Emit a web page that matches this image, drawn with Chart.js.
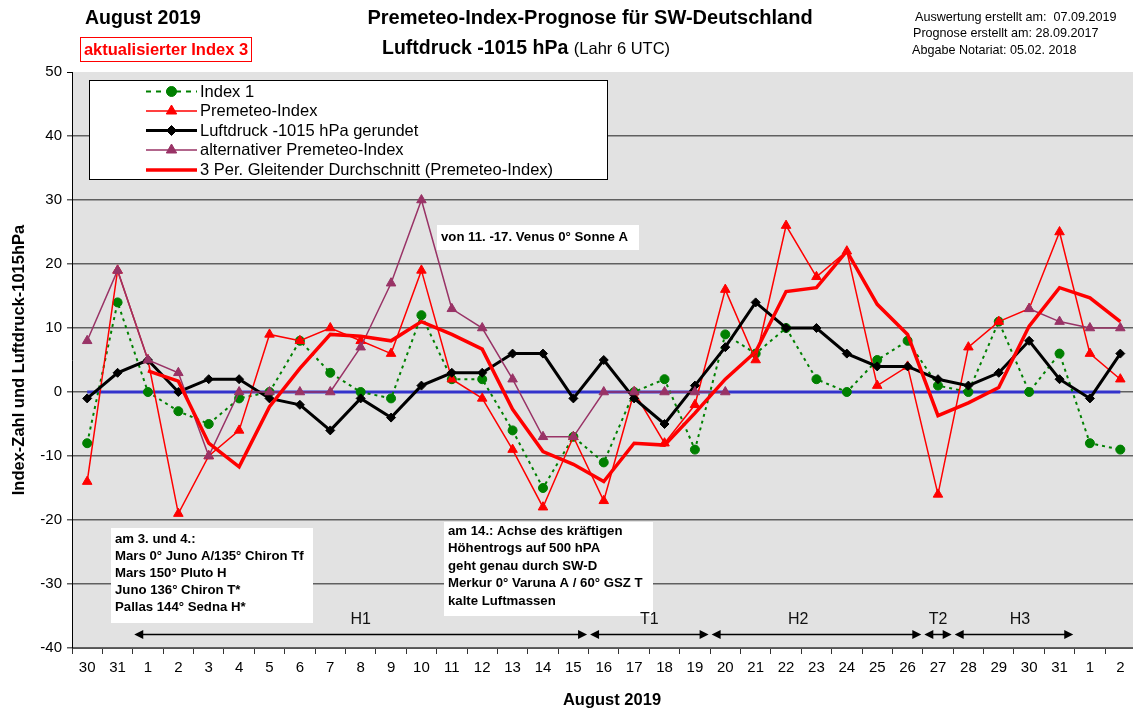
<!DOCTYPE html>
<html><head><meta charset="utf-8">
<script src="https://cdn.jsdelivr.net/npm/chart.js@4.4.1/dist/chart.umd.min.js"></script>
<style>
html,body{margin:0;padding:0;overflow:hidden;background:#fff;}
#wrap{position:relative;width:1133px;height:708px;overflow:hidden;}
#c{position:absolute;left:0;top:0;}
.t{position:absolute;font-family:"Liberation Sans",Arial,sans-serif;white-space:nowrap;color:#000;line-height:1;transform:translateY(-50%);}
</style></head><body>
<div id="wrap">
<canvas id="c" width="1142" height="708"></canvas>
<div class="t" style="left:85px;top:18px;font-size:19.5px;font-weight:bold;">August 2019</div>
<div class="t" style="left:80px;top:37px;width:170px;height:23px;border:1.5px solid #f00;transform:none;display:flex;align-items:center;justify-content:center;color:#f00;font-weight:bold;font-size:16.5px;">aktualisierter Index 3</div>
<div class="t" style="left:590px;top:17px;font-size:20px;font-weight:bold;transform:translate(-50%,-50%);">Premeteo-Index-Prognose für SW-Deutschland</div>
<div class="t" style="left:382px;top:48px;font-size:19.5px;font-weight:bold;">Luftdruck -1015 hPa <span style="font-weight:normal;font-size:16.5px;">(Lahr 6 UTC)</span></div>
<div class="t" style="left:915px;top:17px;font-size:12.6px;">Auswertung erstellt am:&nbsp; 07.09.2019</div>
<div class="t" style="left:913px;top:33px;font-size:12.6px;">Prognose erstellt am: 28.09.2017</div>
<div class="t" style="left:912px;top:50px;font-size:12.6px;">Abgabe Notariat: 05.02. 2018</div>
</div>
<script>
// ---- data ----
const categories = ['30','31','1','2','3','4','5','6','7','8','9','10','11','12','13','14','15','16','17','18','19','20','21','22','23','24','25','26','27','28','29','30','31','1','2'];
const index1 = [-8,14,0,-3,-5,-1,0,8,3,0,-1,12,2,2,-6,-15,-7,-11,0,2,-9,9,6,10,2,0,5,8,1,0,11,0,6,-8,-9];
const premeteoIndex = [-14,19,5,-19,-10,-6,9,8,10,8,6,19,2,-1,-9,-18,-7,-17,0,-8,-2,16,5,26,18,22,1,4,-16,7,11,13,25,6,2];
const luftdruck = [-1,3,5,0,2,2,-1,-2,-6,-1,-4,1,3,3,6,6,-1,5,-1,-5,1,7,14,10,10,6,4,4,2,1,3,8,2,-1,6];
const altPremeteo = [8,19,5,3,-10,0,0,0,0,7,17,30,13,10,2,-7,-7,0,0,0,0,0,null,null,null,null,null,null,null,null,null,13,11,10,10];
const movingAvg3 = [null,null,3.3,1.7,-8,-11.7,-2.3,3.7,9,8.7,8,11,9,6.7,-2.7,-9.3,-11.3,-14,-8,-8.3,-3.3,2,6.3,15.7,16.3,22,13.7,9,-3.7,-1.7,0.7,10.3,16.3,14.7,11];
const zeroLine = [0,0,0,0,0,0,0,0,0,0,0,0,0,0,0,0,0,0,0,0,0,0,0,0,0,0,0,0,0,0,0,0,0,0,0];
const yTicks = [-40,-30,-20,-10,0,10,20,30,40,50];
const xTitle = 'August 2019';
const yTitle = 'Index-Zahl und Luftdruck-1015hPa';
const phaseNames = ['H1','T1','H2','T2','H3'];
const phaseFrom = [1.5,16.5,20.5,27.5,28.5];
const phaseTo = [16.5,20.5,27.5,28.5,32.5];
const phaseLabelAt = [9,18.5,23.4,28,30.7];
const noteVenus = ['von 11. -17. Venus 0° Sonne A'];
const note34 = ['am 3. und 4.:','Mars 0° Juno A/135° Chiron Tf','Mars 150° Pluto H','Juno 136° Chiron T*','Pallas 144° Sedna H*'];
const note14 = ['am 14.: Achse des kräftigen','Höhentrogs auf 500 hPA','geht genau durch SW-D','Merkur 0° Varuna A / 60° GSZ T','kalte Luftmassen'];

const FONT = '"Liberation Sans", Arial, sans-serif';

const bgPlugin = {
  id: 'bg',
  beforeDraw(chart) {
    const {ctx, chartArea: a} = chart;
    ctx.save();
    ctx.fillStyle = '#e2e2e2';
    ctx.fillRect(a.left, a.top, a.right - a.left, a.bottom - a.top);
    ctx.restore();
  }
};

function drawMarker(ctx, style, x, y, r, color) {
  ctx.save();
  ctx.fillStyle = color; ctx.strokeStyle = color; ctx.lineWidth = 1; ctx.setLineDash([]);
  ctx.beginPath();
  if (style === 'circle') {
    ctx.arc(x, y, r, 0, Math.PI * 2);
  } else if (style === 'triangle') {
    ctx.moveTo(x, y - r);
    ctx.lineTo(x + r * 0.866, y + r * 0.5);
    ctx.lineTo(x - r * 0.866, y + r * 0.5);
    ctx.closePath();
  } else if (style === 'rectRot') {
    ctx.moveTo(x - r, y); ctx.lineTo(x, y - r); ctx.lineTo(x + r, y); ctx.lineTo(x, y + r); ctx.closePath();
  }
  ctx.fill(); ctx.stroke();
  ctx.restore();
}

function noteBox(ctx, x, y, w, h, lines, tx, ty, lh) {
  ctx.save();
  ctx.fillStyle = '#fff';
  ctx.fillRect(x, y, w, h);
  ctx.fillStyle = '#000';
  ctx.font = 'bold 13.2px ' + FONT;
  ctx.textAlign = 'left'; ctx.textBaseline = 'middle';
  lines.forEach((s, i) => ctx.fillText(s, tx, ty + i * lh));
  ctx.restore();
}

const overlayPlugin = {
  id: 'overlay',
  afterDatasetsDraw(chart) {
    const ctx = chart.ctx;
    const xs = chart.scales.x, ys = chart.scales.y;
    // top tick mark at 50
    ctx.save();
    ctx.strokeStyle = '#000'; ctx.lineWidth = 1;
    ctx.beginPath(); ctx.moveTo(chart.chartArea.left - 5, ys.getPixelForValue(50) + 0.5); ctx.lineTo(chart.chartArea.left, ys.getPixelForValue(50) + 0.5); ctx.stroke();
    ctx.restore();

    // notes
    noteBox(ctx, 437, 225, 202, 25, noteVenus, 441, 237.5, 0);
    noteBox(ctx, 111, 528, 202, 95, note34, 115, 539, 17);
    noteBox(ctx, 444, 522, 209, 94, note14, 448, 531, 17.6);

    // phase arrows
    const ay = Math.round(ys.getPixelForValue(-37.8)) + 0.5;
    const ly = ys.getPixelForValue(-35.6);
    ctx.save();
    ctx.strokeStyle = '#000'; ctx.fillStyle = '#000'; ctx.lineWidth = 1.5;
    phaseNames.forEach((n, i) => {
      const x1 = xs.getPixelForValue(phaseFrom[i]) + 1.5;
      const x2 = xs.getPixelForValue(phaseTo[i]) - 1.5;
      ctx.beginPath(); ctx.moveTo(x1 + 4, ay); ctx.lineTo(x2 - 4, ay); ctx.stroke();
      ctx.beginPath(); ctx.moveTo(x1, ay); ctx.lineTo(x1 + 9, ay - 4.5); ctx.lineTo(x1 + 9, ay + 4.5); ctx.closePath(); ctx.fill();
      ctx.beginPath(); ctx.moveTo(x2, ay); ctx.lineTo(x2 - 9, ay - 4.5); ctx.lineTo(x2 - 9, ay + 4.5); ctx.closePath(); ctx.fill();
      ctx.font = '16px ' + FONT; ctx.textAlign = 'center'; ctx.textBaseline = 'middle';
      ctx.fillStyle = '#111';
      ctx.fillText(n, xs.getPixelForValue(phaseLabelAt[i]), ly);
      ctx.fillStyle = '#000';
    });
    ctx.restore();

    // legend
    ctx.save();
    ctx.fillStyle = '#fff'; ctx.fillRect(89.5, 80.5, 518, 99);
    ctx.strokeStyle = '#000'; ctx.lineWidth = 1; ctx.strokeRect(89.5, 80.5, 518, 99);
    const rows = [91.5, 111, 130.5, 150, 170];
    const items = chart.data.datasets.filter(d => d.inLegend).sort((a, b) => a.legendRow - b.legendRow);
    items.forEach((d, i) => {
      const y = rows[i];
      ctx.save();
      ctx.strokeStyle = d.borderColor; ctx.lineWidth = d.borderWidth;
      ctx.setLineDash(d.legendDash || []);
      ctx.beginPath(); ctx.moveTo(146, y); ctx.lineTo(197, y); ctx.stroke();
      ctx.restore();
      if (d.pointRadius > 0) drawMarker(ctx, d.pointStyle, 171.5, y, d.pointRadius + 0.5, d.borderColor);
      ctx.fillStyle = '#000'; ctx.font = '16.5px ' + FONT; ctx.textAlign = 'left'; ctx.textBaseline = 'middle';
      ctx.fillText(d.label, 200, y + 0.5);
    });
    ctx.restore();
  },
  afterDraw(chart) {
    const ctx = chart.ctx;
    ctx.save();
    ctx.fillStyle = '#000';
    ctx.font = 'bold 16.5px ' + FONT;
    ctx.textAlign = 'center'; ctx.textBaseline = 'middle';
    ctx.fillText(xTitle, 612, 700);
    ctx.translate(19, 360);
    ctx.rotate(-Math.PI / 2);
    ctx.fillText(yTitle, 0, 0);
    ctx.restore();
  }
};

const chart = new Chart(document.getElementById('c'), {
  type: 'line',
  data: {
    labels: categories,
    datasets: [
      { label: 'zero', data: zeroLine, borderColor: '#3333cc', borderWidth: 3, pointRadius: 0, order: 6 },
      { label: 'Index 1', data: index1, borderColor: '#008000', backgroundColor: '#008000', borderWidth: 2, borderDash: [3, 4],
        pointStyle: 'circle', pointRadius: 4.5, pointBorderWidth: 1, pointBackgroundColor: '#008000', order: 5,
        inLegend: true, legendRow: 0, legendDash: [5, 5] },
      { label: 'Premeteo-Index', data: premeteoIndex, borderColor: '#ff0000', backgroundColor: '#ff0000', borderWidth: 1.5,
        pointStyle: 'triangle', pointRadius: 5.5, pointBorderWidth: 1, pointBackgroundColor: '#ff0000', order: 4,
        inLegend: true, legendRow: 1 },
      { label: 'Luftdruck -1015 hPa gerundet', data: luftdruck, borderColor: '#000000', backgroundColor: '#000000', borderWidth: 3,
        pointStyle: 'rectRot', pointRadius: 4.5, pointBorderWidth: 1, pointBackgroundColor: '#000000', order: 3,
        inLegend: true, legendRow: 2 },
      { label: 'alternativer Premeteo-Index', data: altPremeteo, borderColor: '#993366', backgroundColor: '#993366', borderWidth: 1.5,
        pointStyle: 'triangle', pointRadius: 5.5, pointBorderWidth: 1, pointBackgroundColor: '#993366', order: 2,
        inLegend: true, legendRow: 3 },
      { label: '3 Per. Gleitender Durchschnitt (Premeteo-Index)', data: movingAvg3, borderColor: '#ff0000', borderWidth: 3.5,
        pointRadius: 0, order: 1, inLegend: true, legendRow: 4 }
    ]
  },
  options: {
    responsive: false,
    animation: false,
    devicePixelRatio: 1,
    events: [],
    layout: { padding: { top: 72, left: 0, right: 1, bottom: 0 } },
    elements: { line: { tension: 0 } },
    plugins: { legend: { display: false }, tooltip: { enabled: false } },
    scales: {
      x: {
        type: 'category',
        offset: true,
        grid: { drawOnChartArea: false, offset: true, drawTicks: true, tickLength: 6, color: '#333' },
        border: { color: '#555', width: 1 },
        ticks: { autoSkip: false, maxRotation: 0, color: '#000', font: { family: FONT, size: 15 }, padding: 5 },
        afterFit(s) { s.height = 60; }
      },
      y: {
        min: -40, max: 50,
        afterBuildTicks(s) { s.ticks = yTicks.map(v => ({ value: v })); },
        grid: { color: (c) => (c.tick && c.tick.value === 50) ? 'rgba(0,0,0,0)' : '#606060', lineWidth: 1.5, tickLength: 5, drawTicks: true },
        border: { color: '#000', width: 1 },
        ticks: { color: '#000', font: { family: FONT, size: 15 }, padding: 5 },
        afterFit(s) { s.width = 72; }
      }
    }
  },
  plugins: [bgPlugin, overlayPlugin]
});
</script>
</body></html>
